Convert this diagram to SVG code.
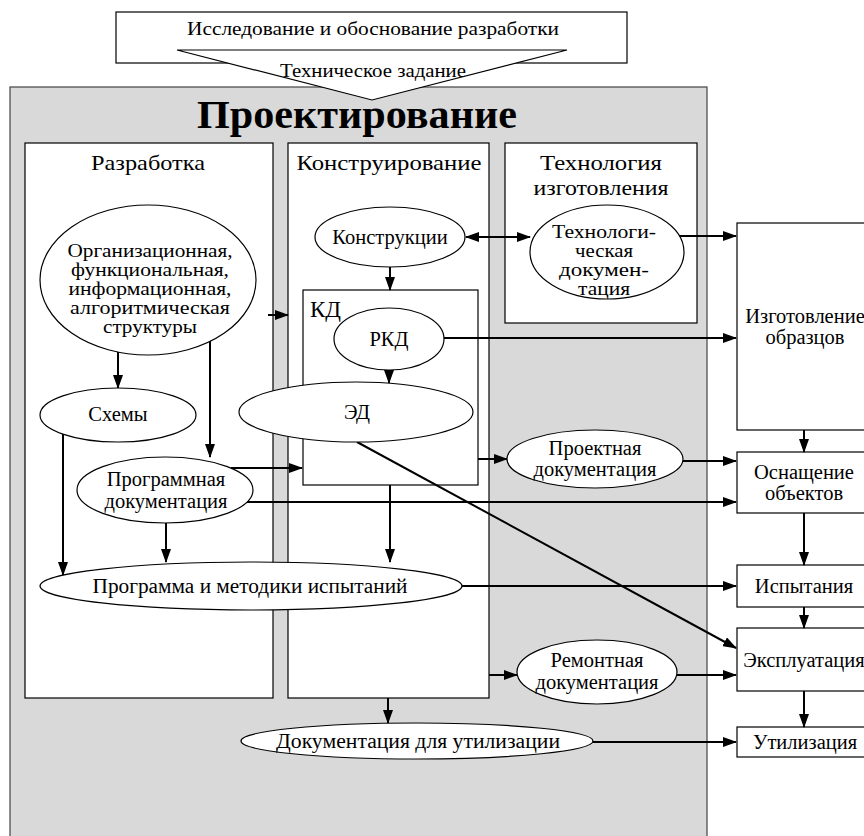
<svg xmlns="http://www.w3.org/2000/svg" width="864" height="836" viewBox="0 0 864 836">
<defs>
<marker id="ah" markerWidth="14" markerHeight="10" refX="13" refY="5" orient="auto" markerUnits="userSpaceOnUse"><path d="M0,0 L14,5 L0,10 Z" fill="#000"/></marker>
<marker id="as" markerWidth="14" markerHeight="10" refX="13" refY="5" orient="auto-start-reverse" markerUnits="userSpaceOnUse"><path d="M0,0 L14,5 L0,10 Z" fill="#000"/></marker>
</defs>
<style>
text{font-family:'Liberation Serif','DejaVu Serif',serif}
.t{fill:#000;text-anchor:middle;font-size:20.5px}
.h{font-size:22px}
.s{font-size:19px}
.n{fill:#fff;stroke:#000;stroke-width:1.2}
.c{stroke:#000;stroke-width:2;fill:none;marker-end:url(#ah)}
</style>
<rect x="0" y="0" width="864" height="836" fill="#fff"/>
<g id="design">
<rect x="10" y="87" width="697" height="760" fill="#d9d9d9" stroke="#444" stroke-width="1.2"/>
<text class="t" x="357" y="128" font-weight="bold" style="font-size:40px" textLength="320" lengthAdjust="spacingAndGlyphs">Проектирование</text>
</g>
<g id="research">
<rect class="n" x="116" y="12" width="511" height="51"/>
<polygon class="n" points="177,50 567,50 372,100"/>
<text class="t s" x="373" y="35" textLength="372" lengthAdjust="spacingAndGlyphs">Исследование и обоснование разработки</text>
<text class="t s" x="373" y="77" textLength="186" lengthAdjust="spacingAndGlyphs">Техническое задание</text>
</g>
<g id="razrabotka">
<rect class="n" x="25" y="143" width="248" height="555"/>
<text class="t h" x="148" y="170" textLength="114" lengthAdjust="spacingAndGlyphs">Разработка</text>
</g>
<g id="konstr">
<rect class="n" x="288" y="143" width="201" height="555"/>
<text class="t h" x="389" y="170" textLength="185" lengthAdjust="spacingAndGlyphs">Конструирование</text>
</g>
<g id="tehnol">
<rect class="n" x="505" y="143" width="192" height="180"/>
<text class="t h" x="601" y="170" textLength="122" lengthAdjust="spacingAndGlyphs">Технология</text>
<text class="t h" x="601" y="195" textLength="135" lengthAdjust="spacingAndGlyphs">изготовления</text>
</g>
<g id="kd">
<rect class="n" x="303" y="290" width="175" height="195"/>
<text x="310" y="317" style="font-size:23px">КД</text>
</g>
<g id="izgotovlenie">
<rect class="n" x="737" y="223" width="150" height="207"/>
<text class="t" x="805" y="323">Изготовление</text>
<text class="t" x="805" y="344">образцов</text>
</g>
<g id="osnaschenie">
<rect class="n" x="737" y="452" width="150" height="61"/>
<text class="t" x="804" y="479">Оснащение</text>
<text class="t" x="804" y="500">объектов</text>
</g>
<g id="ispytaniya">
<rect class="n" x="737" y="565" width="150" height="42"/>
<text class="t" x="804" y="593">Испытания</text>
</g>
<g id="ekspluatatsiya">
<rect class="n" x="737" y="628" width="150" height="63"/>
<text class="t" x="804" y="667">Эксплуатация</text>
</g>
<g id="utilizatsiya">
<rect class="n" x="737" y="727" width="150" height="30"/>
<text class="t" x="805" y="749">Утилизация</text>
</g>
<g id="connectors">
<path class="c" d="M268,315 H288"/>
<path class="c" d="M466,237 H530" style="marker-start:url(#as)"/>
<path class="c" d="M390,267 V290"/>
<path class="c" d="M678,236 H736"/>
<path class="c" d="M443,338 H736"/>
<path class="c" d="M389,370 V383"/>
<path class="c" d="M118,350 V388"/>
<path class="c" d="M210,340 V457"/>
<path class="c" d="M63,434 V575"/>
<path class="c" d="M166,523 V562"/>
<path class="c" d="M231,468 H302"/>
<path class="c" d="M247,502 H736"/>
<path class="c" d="M478,459 H507"/>
<path class="c" d="M683,461 H736"/>
<path class="c" d="M390,485 V562"/>
<path class="c" d="M462,586 H736"/>
<path class="c" d="M357,442 L736,648"/>
<path class="c" d="M489,675 H517"/>
<path class="c" d="M677,675 H736"/>
<path class="c" d="M388,698 V723"/>
<path class="c" d="M593,742 H736"/>
<path class="c" d="M804,430 V452"/>
<path class="c" d="M804,513 V565"/>
<path class="c" d="M804,607 V628"/>
<path class="c" d="M804,691 V727"/>
</g>
<g id="org">
<ellipse class="n" cx="148" cy="280" rx="108" ry="75"/>
<text class="t s" x="150" y="257" textLength="165" lengthAdjust="spacingAndGlyphs">Организационная,</text>
<text class="t s" x="150" y="276" textLength="158" lengthAdjust="spacingAndGlyphs">функциональная,</text>
<text class="t s" x="150" y="295" textLength="163" lengthAdjust="spacingAndGlyphs">информационная,</text>
<text class="t s" x="150" y="314" textLength="160" lengthAdjust="spacingAndGlyphs">алгоритмическая</text>
<text class="t s" x="150" y="333" textLength="94" lengthAdjust="spacingAndGlyphs">структуры</text>
</g>
<g id="konstruktsii">
<ellipse class="n" cx="390" cy="237" rx="75" ry="30"/>
<text class="t" x="390" y="244">Конструкции</text>
</g>
<g id="tehdoc">
<ellipse class="n" cx="607" cy="252" rx="77" ry="47"/>
<text class="t s" x="604" y="238" textLength="104" lengthAdjust="spacingAndGlyphs">Технологи-</text>
<text class="t s" x="604" y="257" textLength="58" lengthAdjust="spacingAndGlyphs">ческая</text>
<text class="t s" x="604" y="276" textLength="90" lengthAdjust="spacingAndGlyphs">докумен-</text>
<text class="t s" x="604" y="295" textLength="52" lengthAdjust="spacingAndGlyphs">тация</text>
</g>
<g id="rkd">
<ellipse class="n" cx="389" cy="339" rx="55" ry="31"/>
<text class="t" x="389" y="346">РКД</text>
</g>
<g id="ed">
<ellipse class="n" cx="356" cy="412" rx="117" ry="30"/>
<text class="t" x="357" y="419">ЭД</text>
</g>
<g id="shemy">
<ellipse class="n" cx="118" cy="415" rx="78" ry="27"/>
<text class="t" x="118" y="421">Схемы</text>
</g>
<g id="progdoc">
<ellipse class="n" cx="165" cy="490" rx="88" ry="33"/>
<text class="t" x="166" y="486">Программная</text>
<text class="t" x="166" y="508">документация</text>
</g>
<g id="proektdoc">
<ellipse class="n" cx="595" cy="459" rx="88" ry="29"/>
<text class="t" x="595" y="455">Проектная</text>
<text class="t" x="595" y="476">документация</text>
</g>
<g id="programma">
<ellipse class="n" cx="251" cy="586" rx="211" ry="24"/>
<text class="t" x="250" y="593" textLength="315" lengthAdjust="spacingAndGlyphs">Программа и методики испытаний</text>
</g>
<g id="remontdoc">
<ellipse class="n" cx="597" cy="672" rx="80" ry="32"/>
<text class="t" x="597" y="667">Ремонтная</text>
<text class="t" x="597" y="689">документация</text>
</g>
<g id="utildoc">
<ellipse class="n" cx="417" cy="741" rx="176" ry="18"/>
<text class="t" x="418" y="748" textLength="284" lengthAdjust="spacingAndGlyphs">Документация для утилизации</text>
</g>
</svg>
